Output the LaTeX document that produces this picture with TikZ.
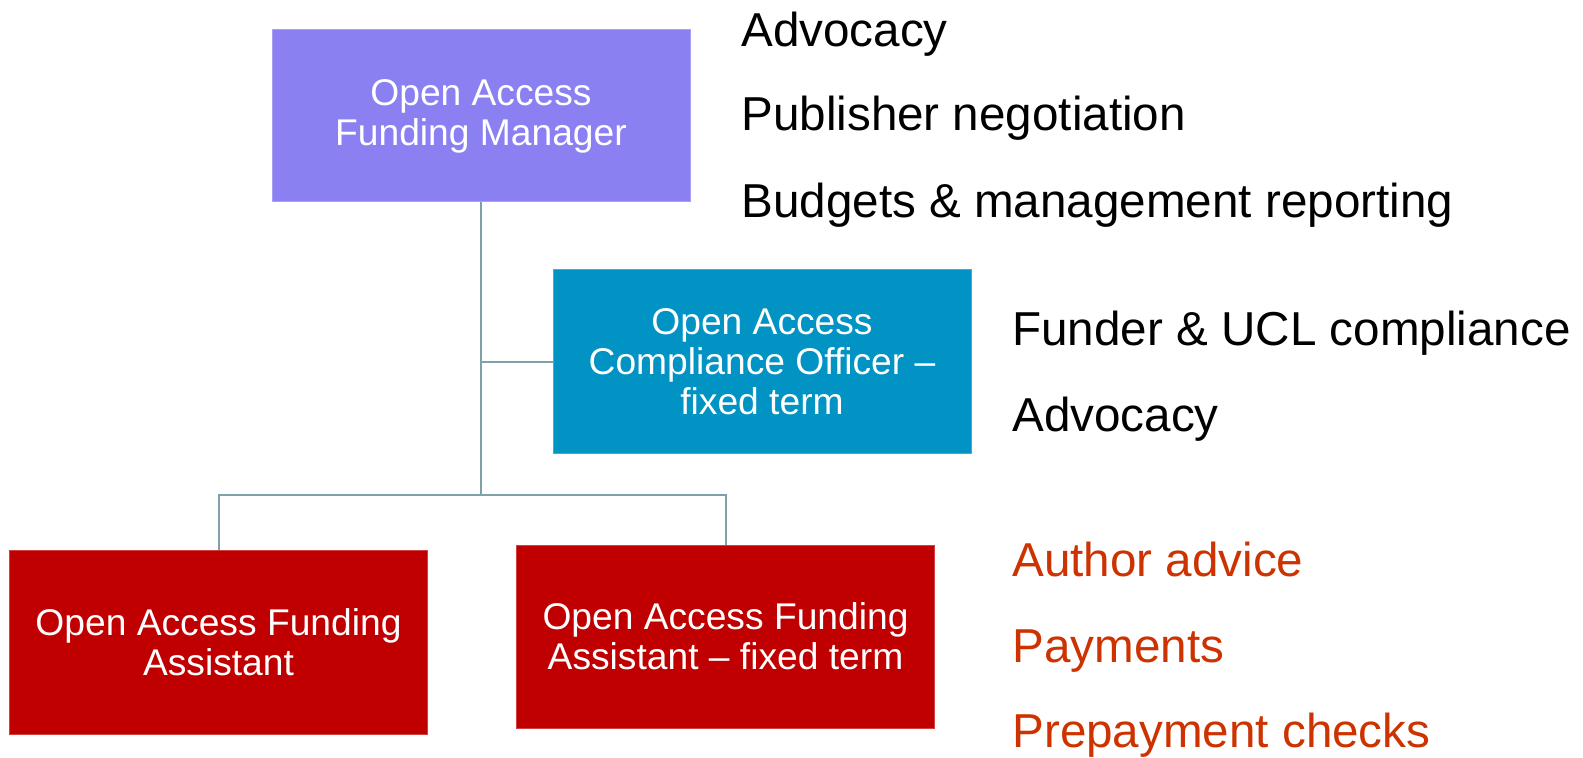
\documentclass[tikz,border=0pt]{standalone}
\usepackage{fontspec}
\setmainfont{Liberation Sans}

\definecolor{mgrpurple}{RGB}{139,128,242}
\definecolor{officerblue}{RGB}{0,147,196}
\definecolor{assistred}{RGB}{192,0,0}
\definecolor{dutyred}{RGB}{204,51,0}
\definecolor{linkgray}{RGB}{128,160,170}

\tikzset{
  role/.style={minimum width=209pt, inner sep=0pt, text=white, align=center,
    font=\fontsize{18.6}{20}\selectfont, line width=0.5pt},
  duty/.style={anchor=base west, inner sep=0pt, font=\fontsize{23.8}{28}\selectfont},
  link/.style={draw=linkgray, line width=1pt}
}

\begin{document}
\begin{tikzpicture}[x=0.5pt,y=-0.5pt]
\useasboundingbox (0,0) rectangle (1583,758);

% Roles
\node[role, fill=mgrpurple, draw=mgrpurple!75!white, minimum height=86pt] (mgr) at (481,116) {Open Access\\Funding Manager};
\node[role, fill=officerblue, draw=officerblue!75!white, minimum height=92pt] (officer) at (762,362) {Open Access\\Compliance Officer --\\fixed term};
\node[role, fill=assistred, draw=assistred!75!white, minimum height=92pt] (assistA) at (218.5,642) {Open Access Funding\\Assistant};
\node[role, fill=assistred, draw=assistred!75!white, minimum height=91.5pt] (assistB) at (725.5,636.5) {Open Access Funding\\Assistant -- fixed term};

% Connectors
\coordinate (split) at (481,495);
\draw[link] (mgr.south) -- (split);
\draw[link] (mgr.south |- officer.west) -- (officer.west);
\draw[link] (assistA.north) -- (assistA.north |- split) -- (assistB.north |- split) -- (assistB.north);

% Duties
\node[duty] (mgrA) at (741,46.5) {Advocacy}; % Manager
\node[duty] (mgrB) at (741,131) {Publisher negotiation};
\node[duty] (mgrC) at (741,218) {Budgets \& management reporting};
\node[duty] (offA) at (1012,346) {Funder \& UCL compliance}; % Officer
\node[duty] (offB) at (1012,432) {Advocacy};
\node[duty, text=dutyred] (asA) at (1012,576) {Author advice}; % Assistants
\node[duty, text=dutyred] (asB) at (1012,662) {Payments};
\node[duty, text=dutyred] (asC) at (1012,747) {Prepayment checks};
\end{tikzpicture}
\end{document}
